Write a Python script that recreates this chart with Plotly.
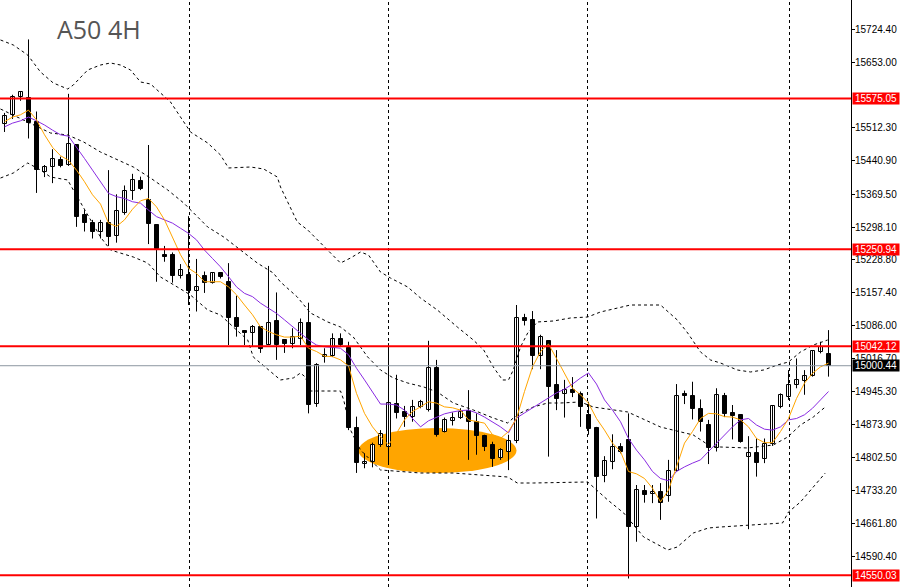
import plotly.graph_objects as go

# ---------------- data ----------------
OPEN = [15520,15540,15579,15577,15525,15418,15427,15443,15432,15475,
        15325,15308,15289,15307,15279,15329,15377,15398,15357,15303,
        15239,15239,15194,15196,15162,15194,15178,15199,15180,15102,
        15075,15070,15083,15046,15097,15056,15047,15057,15092,14918,
        15019,15021,15057,15038,14866,14789,14794,14830,14825,14918,
        14902,14891,14911,14905,14996,14859,14882,14887,14903,14880,
        14850,14829,14801,14814,14839,15102,15099,15022,15054,14959,
        14939,14948,14940,14895,14866,14764,14794,14825,14841,14654,
        14731,14724,14728,14720,14775,14940,14936,14907,14873,14824,
        14935,14898,14895,14804,14813,14799,14832,14911,14933,14959,
        14968,14978,15031,15026]
HIGH = [15544,15583,15591,15702,15547,15432,15466,15450,15585,15477,
        15335,15314,15314,15421,15369,15388,15413,15407,15475,15304,
        15258,15244,15219,15322,15230,15203,15200,15200,15221,15151,
        15077,15088,15084,15215,15158,15057,15081,15102,15136,15006,
        15038,15070,15070,15052,14891,14812,14835,14862,15049,14981,
        14914,14927,14927,15054,15013,14889,14900,14909,14948,14898,
        14852,14837,14823,14852,15131,15112,15118,15067,15055,15034,
        14970,14976,14945,14923,14869,14806,14853,14834,14898,14744,
        14744,14744,14748,14798,14961,14947,14966,14928,14884,14952,
        14942,14916,14896,14849,14844,14844,14916,14941,14991,15016,
        14991,15034,15052,15077]
LOW = [15503,15531,15570,15489,15372,15406,15393,15427,15430,15299,
       15289,15274,15274,15258,15265,15325,15357,15378,15262,15181,
       15224,15179,15188,15131,15117,15157,15177,15188,15045,15063,
       15045,15043,15028,15045,15013,15028,15038,15045,14898,14912,
       15007,15019,15041,14862,14770,14780,14782,14826,14787,14887,
       14869,14880,14909,14902,14848,14857,14872,14886,14798,14809,
       14817,14783,14798,14776,14834,15087,14993,14993,14805,14905,
       14889,14933,14869,14852,14672,14750,14778,14812,14543,14622,
       14706,14705,14669,14708,14773,14918,14885,14859,14789,14816,
       14890,14842,14835,14649,14762,14791,14828,14909,14927,14952,
       14938,14977,15027,14977]
CLOSE = [15537,15579,15590,15523,15421,15427,15444,15430,15477,15321,
         15307,15289,15307,15278,15333,15377,15400,15380,15305,15251,
         15235,15194,15206,15162,15170,15178,15199,15192,15104,15083,
         15070,15083,15036,15093,15045,15047,15062,15092,14916,15002,
         15024,15057,15045,14866,14791,14794,14830,14854,14920,14898,
         14891,14911,14922,14996,14852,14884,14887,14902,14879,14850,
         14826,14799,14819,14839,15102,15097,15022,15063,14955,14928,
         14948,14941,14911,14864,14762,14796,14826,14814,14654,14733,
         14723,14728,14705,14775,14936,14935,14907,14880,14824,14938,
         14897,14892,14837,14812,14792,14832,14914,14938,14959,14970,
         14978,15032,15041,15000.44]

# fast moving average (orange) and slow moving average (purple), one value per candle
MA_FAST = [15525,15535,15540,15550,15529,15497,15470,15452,15442,15421,
           15396,15368,15348,15307,15300,15314,15337,15355,15360,15342,
           15314,15278,15239,15210,15199,15181,15181,15181,15170,15153,
           15131,15110,15084,15074,15067,15062,15062,15064,15038,15031,
           15021,15020,15013,15000,14941,14898,14869,14848,14830,14855,
           14884,14902,14912,14923,14920,14912,14910,14905,14884,14880,
           14877,14852,14844,14859,14887,14945,14998,15031,15047,15016,
           14984,14952,14938,14920,14887,14862,14834,14816,14773,14768,
           14758,14737,14708,14733,14783,14834,14859,14887,14898,14897,
           14891,14890,14884,14869,14844,14835,14835,14859,14887,14930,
           14963,14984,14998,15006]
MA_SLOW = [15514,15522,15527,15535,15527,15518,15507,15497,15494,15471,
           15446,15421,15396,15371,15364,15360,15353,15350,15335,15321,
           15314,15307,15296,15285,15271,15249,15231,15213,15192,15170,
           15156,15149,15135,15124,15113,15099,15084,15070,15056,15045,
           15041,15040,15038,15024,14995,14970,14945,14918,14918,14916,
           14905,14888,14869,14882,14890,14897,14901,14904,14905,14899,
           14890,14879,14869,14856,14888,14899,14910,14920,14931,14942,
           14950,14961,14974,14985,14961,14927,14905,14880,14844,14819,
           14798,14773,14758,14753,14773,14783,14791,14798,14816,14834,
           14852,14869,14884,14887,14873,14864,14862,14869,14884,14887,
           14895,14909,14927,14945]

# dotted envelope lines (position along the candle index axis, price)
UPPER_X = [-0.5,1.1,2.9,4.5,6.1,7.9,8.6,10.4,12,13.25,14.5,15.75,17,18.25,20.75,
           23.25,25.4,27,28,30.75,32.4,34.1,34.5,36.6,37.9,39.5,42,43.25,44.5,45.5,
           47,48.25,50.4,52,54.1,56.6,58.6,59.9,61.1,62.25,63,63.6,64.5,65.4,66.6,
           68.6,70.75,72.9,74.5,78.25,82,84.1,85.4,87,88.25,89.5,91.6,93.25,94.9,
           96.6,98,99.5,101.1,102.9]
UPPER_Y = [15700.8,15690.0,15668.5,15631.9,15608.3,15595.4,15604.0,15636.3,15647.0,
           15651.3,15647.0,15636.3,15610.5,15606.2,15567.5,15502.9,15479.3,15453.5,
           15425.6,15427.7,15423.4,15406.2,15384.7,15309.5,15292.3,15264.3,15221.3,
           15232.0,15244.9,15238.5,15201.9,15189.0,15169.7,15146.1,15120.3,15083.7,
           15055.8,15034.3,14997.7,14969.8,14969.8,14991.3,15040.7,15070.8,15094.5,
           15096.6,15103.1,15105.2,15116.0,15131.0,15131.0,15098.8,15070.8,15030.0,
           15012.8,15006.3,14991.3,14987.0,14991.3,15002.0,15008.5,15030.0,15045.0,
           15055.8]
MIDDLE_X = [-0.5,5.75,7.9,9.9,12,14.1,16.1,18.25,20.4,22.4,24.1,25.4,27.4,29.5,31.6,
            33.6,34.5,36.6,38.25,40.4,42,43.6,45.4,47,48.6,50.4,52.4,54.1,56.1,58.6,
            61.1,62.9,63.6,64.5,66.1,67.9,69.5,72,73.6,77.9,82,86.1,88,89.5,92.9,96.1,
            97.9,99.5,101.1,102.6]
MIDDLE_Y = [15552.4,15500.8,15496.5,15481.4,15459.9,15442.8,15427.7,15404.0,15378.3,
            15350.3,15320.2,15298.7,15277.2,15249.3,15221.3,15199.8,15180.5,15148.2,
            15113.8,15094.5,15083.7,15062.2,15019.2,14991.3,14974.1,14963.3,14954.7,
            14944.0,14920.3,14905.3,14888.0,14877.3,14888.0,14898.8,14911.7,14920.3,
            14920.3,14922.5,14911.7,14901.0,14868.7,14851.5,14830.0,14825.7,14823.6,
            14830.0,14847.2,14873.0,14890.2,14911.7]
LOWER_X = [-0.5,1.1,2.9,4.5,5.75,7.9,8.6,12,13.25,16.1,17.9,19.5,21.6,23.25,25.4,27,
           28.6,30.4,31.1,34.5,36.1,37,37.6,38.25,42,42.4,43.25,44.5,47,52,56.1,62.9,
           64.1,66.1,72.9,75.4,77.4,79.9,82.9,84.1,86.1,88,89.5,93.25,97.25,98,99.5,
           101.1,102.6]
LOWER_Y = [15404.0,15414.8,15436.3,15421.3,15406.2,15399.8,15378.3,15277.2,15249.3,
           15234.2,15221.3,15191.2,15169.7,15152.5,15120.3,15109.5,15083.7,15055.8,
           15019.2,14969.8,14974.1,14984.8,14976.2,14946.1,14946.1,14926.8,14862.3,
           14819.3,14776.3,14769.8,14769.8,14761.2,14748.3,14748.3,14750.5,14711.8,
           14683.8,14632.2,14604.3,14610.7,14640.8,14651.6,14653.7,14658.0,14662.3,
           14686.0,14707.5,14739.7,14769.8]

LEVELS = [15575.05, 15250.94, 15042.12, 14550.03]
LEVEL_LABELS = ["15575.05", "15250.94", "15042.12", "14550.03"]
LAST_PRICE = 15000.44
LAST_LABEL = "15000.44"

TICK_VALS = [15724.40, 15653.00, 15512.30, 15440.90, 15369.50, 15298.10, 15228.80,
             15157.40, 15086.00, 15016.70, 14945.30, 14873.90, 14802.50, 14733.20,
             14661.80, 14590.40]
TICK_TEXT = ["15724.40", "15653.00", "15512.30", "15440.90", "15369.50", "15298.10",
             "15228.80", "15157.40", "15086.00", "15016.70", "14945.30", "14873.90",
             "14802.50", "14733.20", "14661.80", "14590.40"]

SEPARATORS = [23.125, 48.0, 72.875, 98.125]     # period separators (candle index)
ZONE_X = [44.25, 64.0]                          # highlighted zone (candle index)
ZONE_Y = [14769.8, 14866.5]                     # highlighted zone (price)

TITLE = "A50 4H"

# ---------------- figure ----------------
n = len(OPEN)
idx = list(range(n))

fig = go.Figure()

# wicks
wx, wy = [], []
for i in idx:
    wx += [i, i, None]
    wy += [LOW[i], HIGH[i], None]
fig.add_trace(go.Scatter(x=wx, y=wy, mode="lines",
                         line=dict(color="black", width=1), hoverinfo="skip"))

# bodies
bases = [min(o, c) for o, c in zip(OPEN, CLOSE)]
heights = [max(abs(c - o), 1.2) for o, c in zip(OPEN, CLOSE)]
fills = ["white" if c >= o else "black" for o, c in zip(OPEN, CLOSE)]
fig.add_trace(go.Bar(x=idx, y=heights, base=bases, width=0.5,
                     marker=dict(color=fills, line=dict(color="black", width=1))))

dot = "3px,3px"
for xs, ys in [(UPPER_X, UPPER_Y), (MIDDLE_X, MIDDLE_Y), (LOWER_X, LOWER_Y)]:
    fig.add_trace(go.Scatter(x=xs, y=ys, mode="lines",
                             line=dict(color="black", width=1, dash=dot)))

fig.add_trace(go.Scatter(x=idx, y=MA_SLOW, mode="lines",
                         line=dict(color="#8A2BE2", width=1)))
fig.add_trace(go.Scatter(x=idx, y=MA_FAST, mode="lines",
                         line=dict(color="#FFA500", width=1)))

shapes = []
# orange highlighted zone
shapes.append(dict(type="circle", xref="x", yref="y", x0=ZONE_X[0], x1=ZONE_X[1],
                   y0=ZONE_Y[0], y1=ZONE_Y[1], fillcolor="#FFA500",
                   line=dict(width=0), layer="below"))
# period separators
for s in SEPARATORS:
    shapes.append(dict(type="line", xref="x", yref="paper", x0=s, x1=s, y0=0, y1=1,
                       line=dict(color="black", width=1, dash=dot), layer="below"))
# last price line
shapes.append(dict(type="line", xref="paper", yref="y", x0=0, x1=1,
                   y0=LAST_PRICE, y1=LAST_PRICE,
                   line=dict(color="#8C96A0", width=1), layer="above"))
# horizontal levels
for lv in LEVELS:
    shapes.append(dict(type="line", xref="paper", yref="y", x0=0, x1=1, y0=lv, y1=lv,
                       line=dict(color="#FF0000", width=2), layer="above"))

label_font = "Liberation Sans, Arial, sans-serif"

annotations = []
for lv, txt in zip(LEVELS, LEVEL_LABELS):
    annotations.append(dict(xref="paper", yref="y", x=1, y=lv, xanchor="left",
                            yanchor="middle", xshift=1, text=txt, showarrow=False,
                            bgcolor="#FF0000", borderpad=0, width=46, height=11,
                            align="center", valign="middle",
                            font=dict(family=label_font, size=10, color="white")))
annotations.append(dict(xref="paper", yref="y", x=1, y=LAST_PRICE, xanchor="left",
                        yanchor="middle", xshift=1, text=LAST_LABEL, showarrow=False,
                        bgcolor="black", borderpad=0, width=46, height=11,
                        align="center", valign="middle",
                        font=dict(family=label_font, size=10, color="white")))
annotations.append(dict(xref="paper", yref="paper", x=55 / 851, y=1, xanchor="left",
                        yanchor="top", yshift=-10, text=TITLE, showarrow=False,
                        font=dict(family="Open Sans", size=25, color="#555555")))

fig.update_layout(
    width=903, height=587,
    margin=dict(l=0, r=52, t=0, b=0),
    paper_bgcolor="white", plot_bgcolor="white",
    showlegend=False,
    shapes=shapes, annotations=annotations,
    xaxis=dict(range=[-0.5625, 105.8125], visible=False, fixedrange=True),
    yaxis=dict(range=[14524.7, 15786.75], side="right", showgrid=False,
               zeroline=False, showline=True, linecolor="black", linewidth=1,
               ticks="outside", ticklen=3, tickcolor="black",
               ticklabelstandoff=-2,
               tickvals=TICK_VALS, ticktext=TICK_TEXT,
               tickfont=dict(family=label_font, size=10, color="black")),
    bargap=0,
)

fig.write_html("out.html", config={"displayModeBar": False},
               post_script="document.body.style.margin='0';")
